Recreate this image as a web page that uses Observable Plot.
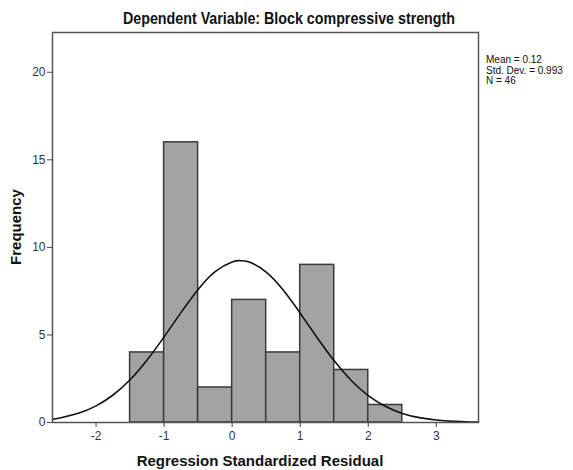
<!DOCTYPE html>
<html>
<head>
<meta charset="utf-8">
<script src="https://cdn.jsdelivr.net/npm/d3@7"></script>
<script src="https://cdn.jsdelivr.net/npm/@observablehq/plot@0.6"></script>
<style>
  html, body { margin: 0; padding: 0; background: #fff; }
  svg { font-family: "Liberation Sans", Arial, sans-serif; }
</style>
</head>
<body>
<div id="chart"></div>
<script>
// Histogram bins (left/right edges), counts
const binStart = [-1.5, -1.0, -0.5, 0.0, 0.5, 1.0, 1.5, 2.0];
const binEnd   = [-1.0, -0.5, 0.0, 0.5, 1.0, 1.5, 2.0, 2.5];
const counts   = [4, 16, 2, 7, 4, 9, 3, 1];

// Normal curve points
const curveX = [-2.64, -2.5, -2.25, -2.0, -1.75, -1.5, -1.25, -1.0, -0.75, -0.5, -0.25, 0.0, 0.12, 0.25, 0.5, 0.75, 1.0, 1.25, 1.5, 1.75, 2.0, 2.25, 2.5, 2.75, 3.0, 3.25, 3.5, 3.62];
const curveY = [0.19, 0.29, 0.54, 0.95, 1.57, 2.44, 3.57, 4.89, 6.29, 7.60, 8.62, 9.17, 9.24, 9.16, 8.59, 7.56, 6.24, 4.84, 3.52, 2.40, 1.54, 0.93, 0.52, 0.28, 0.14, 0.064, 0.028, 0.02];

const xTicks = [-2, -1, 0, 1, 2, 3];
const yTicks = [0, 5, 10, 15, 20];

const titleText = "Dependent Variable: Block compressive strength";
const xLabel = "Regression Standardized Residual";
const yLabel = "Frequency";
const statsLines = ["Mean = 0.12", "Std. Dev. = 0.993", "N = 46"];

const bars = counts.map((c, i) => ({x1: binStart[i], x2: binEnd[i], y: c}));
const curve = curveX.map((x, i) => ({x, y: curveY[i]}));

const W = 573, H = 470;
const mL = 52, mR = 95, mT = 32, mB = 48;

const chart = Plot.plot({
  width: W,
  height: H,
  marginLeft: mL,
  marginRight: mR,
  marginTop: mT,
  marginBottom: mB,
  style: {fontFamily: "'Liberation Sans', Arial, sans-serif", fontSize: "12px", color: "#333", background: "#fff"},
  x: {domain: [-2.64, 3.62], label: null},
  y: {domain: [0, 22.27], label: null},
  marks: [
    Plot.rectY(bars, {x1: "x1", x2: "x2", y: "y", fill: "#a3a3a3", stroke: "#3a3a3a", strokeWidth: 1.5}),
    Plot.line(curve, {x: "x", y: "y", curve: "natural", stroke: "#111", strokeWidth: 1.6}),
    Plot.frame({stroke: "#555", strokeWidth: 1.5}),
    Plot.axisX({ticks: xTicks, tickSize: 5, tickPadding: 4, label: null, stroke: "#444", fill: "#333", fontSize: 12, tickFormat: d => d < 0 ? "-" + Math.abs(d) : String(d)}),
    Plot.axisY({ticks: yTicks, tickSize: 5, tickPadding: 2, label: null, stroke: "#444", fill: "#333", fontSize: 12})
  ]
});

document.getElementById("chart").appendChild(chart);

const svg = d3.select(chart);
svg.append("text")
  .attr("x", 289).attr("y", 24)
  .attr("text-anchor", "middle")
  .attr("font-size", 16).attr("font-weight", "bold").attr("fill", "#111")
  .attr("textLength", 332).attr("lengthAdjust", "spacingAndGlyphs")
  .text(titleText);

svg.append("text")
  .attr("x", 260).attr("y", 466)
  .attr("text-anchor", "middle")
  .attr("font-size", 15).attr("font-weight", "bold").attr("fill", "#111")
  .text(xLabel);

svg.append("text")
  .attr("transform", `translate(21, ${(mT + (H - mB)) / 2}) rotate(-90)`)
  .attr("text-anchor", "middle")
  .attr("font-size", 15).attr("font-weight", "bold").attr("fill", "#111")
  .text(yLabel);

statsLines.forEach((s, i) => {
  svg.append("text")
    .attr("x", 486).attr("y", 63 + i * 10.5)
    .attr("text-anchor", "start")
    .attr("font-size", 10).attr("fill", "#111")
    .text(s);
});
</script>
</body>
</html>
